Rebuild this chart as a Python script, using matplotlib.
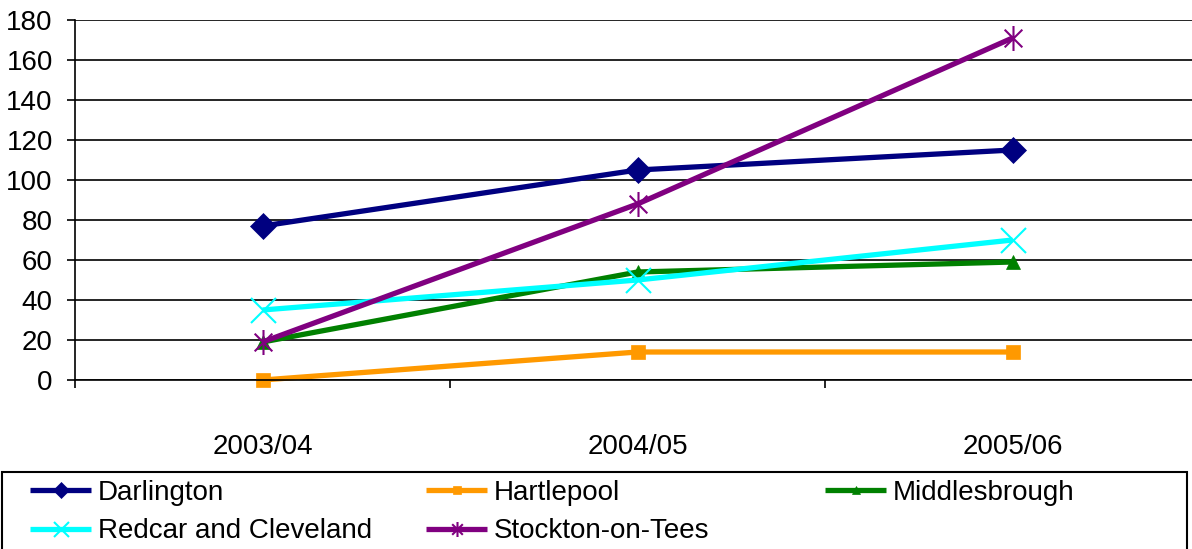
import matplotlib
matplotlib.use("Agg")
import matplotlib.pyplot as plt
from matplotlib.patches import Rectangle
from matplotlib.path import Path
import numpy as np

plt.rcParams["font.family"] = ["Liberation Sans", "DejaVu Sans"]

years = ["2003/04", "2004/05", "2005/06"]
darlington = [77, 105, 115]
hartlepool = [0, 14, 14]
middlesbrough = [19, 54, 59]
redcar = [35, 50, 70]
stockton = [19, 88, 171]

# asterisk marker: vertical bar plus an X
asterisk = Path(
    [(0, -1), (0, 1), (-0.707, -0.707), (0.707, 0.707), (-0.707, 0.707), (0.707, -0.707)],
    [Path.MOVETO, Path.LINETO, Path.MOVETO, Path.LINETO, Path.MOVETO, Path.LINETO],
)

series = [
    ("Darlington", darlington, "#000080", "D", 13, 0),
    ("Hartlepool", hartlepool, "#FF9900", "s", 10, 0),
    ("Middlesbrough", middlesbrough, "#008000", "^", 10, 0),
    ("Redcar and Cleveland", redcar, "#00FFFF", "x", 18, 1.5),
    ("Stockton-on-Tees", stockton, "#800080", asterisk, 18, 1.5),
]

fig = plt.figure(figsize=(11.92, 5.49), dpi=100)
ax = fig.add_axes([75 / 1192, 1 - 380 / 549, 1125 / 1192, 360 / 549])

x = np.arange(len(years))
handles = {}
for name, vals, col, mk, ms, mew in series:
    (h,) = ax.plot(x, vals, color=col, lw=3.8, marker=mk, ms=ms,
                   markeredgewidth=mew if mew else 0.5, markeredgecolor=col,
                   markerfacecolor=col, label=name, solid_capstyle="butt", clip_on=False)
    handles[name] = h

ax.set_xlim(-0.5, 2.5)
ax.set_ylim(0, 180)
ax.set_yticks(np.arange(0, 181, 20))
ax.yaxis.grid(True, color="black", lw=1.2)
ax.set_axisbelow(True)
for s in ("top", "right"):
    ax.spines[s].set_visible(False)
ax.spines["left"].set_linewidth(1.2)
ax.spines["bottom"].set_linewidth(1.2)
ax.spines["left"].set_bounds(0, 180)

ax.set_xticks(x)
ax.set_xticklabels(years)
ax.set_xticks([-0.5, 0.5, 1.5], minor=True)
ax.tick_params(axis="x", which="major", length=0, pad=39, labelsize=20)
ax.tick_params(axis="x", which="minor", length=6, width=1.2)
ax.tick_params(axis="y", length=6, width=1.2, pad=10, labelsize=20)

# legend box along the bottom
fig.patches.append(Rectangle((2 / 1192, -0.02), 1185 / 1192, (549 - 472) / 549 + 0.02,
                             transform=fig.transFigure, fill=False, ec="black", lw=1.5))

columns = [
    (30, ["Darlington", "Redcar and Cleveland"]),
    (426, ["Hartlepool", "Stockton-on-Tees"]),
    (825, ["Middlesbrough"]),
]
for xpos, names in columns:
    fig.legend([handles[n] for n in names], names,
               loc="upper left", bbox_to_anchor=(xpos / 1192, 1 - 480 / 549),
               frameon=False, fontsize=20, handlelength=2.2, handletextpad=0.25,
               labelspacing=0.45, borderpad=0, borderaxespad=0, markerscale=0.6)

fig.savefig("out.png", dpi=100)
